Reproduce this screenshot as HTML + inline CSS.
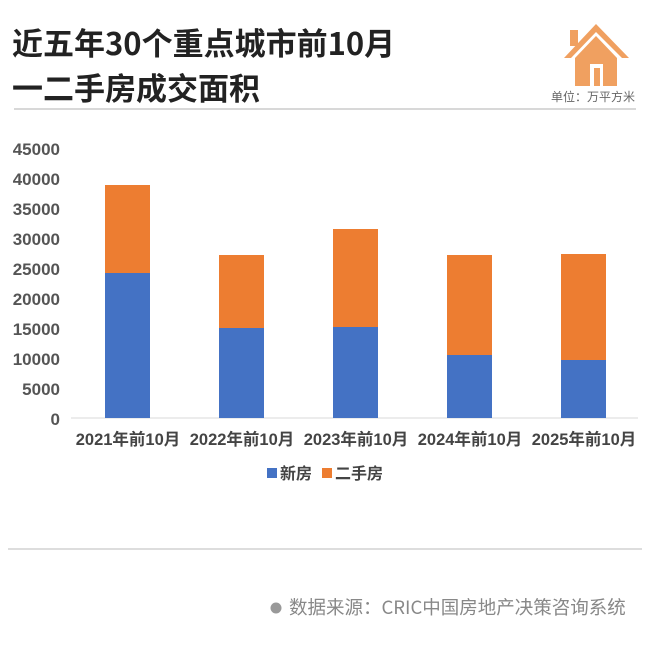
<!DOCTYPE html>
<html><head><meta charset="utf-8"><style>
body{margin:0;background:#fff;}
svg{display:block;font-family:"Liberation Sans","Noto Sans CJK SC",sans-serif;}
</style></head><body>
<svg width="650" height="664" viewBox="0 0 650 664" xmlns="http://www.w3.org/2000/svg">
<rect width="650" height="664" fill="#fff"/>
<text x="12" y="55" font-size="31" font-weight="bold" fill="#222" font-family="'Noto Sans CJK SC',sans-serif">近五年30个重点城市前10月</text>
<text x="12" y="100" font-size="31" font-weight="bold" fill="#222" font-family="'Noto Sans CJK SC',sans-serif">一二手房成交面积</text>
<g fill="#f0a060">
<polygon points="564,58 596,24 629,58 622,58 596,32 571,58"/>
<rect x="570" y="30" width="8" height="16"/>
<polygon points="575,58 596,36 617,58 617,86 575,86"/>
</g>
<rect x="590" y="64" width="13" height="22" fill="#fff"/>
<rect x="594" y="68" width="6" height="18" fill="#f0a060"/>
<text x="551" y="101" font-size="12" fill="#666" font-family="'Noto Sans CJK SC',sans-serif">单位：万平方米</text>
<line x1="14" y1="109" x2="636" y2="109" stroke="#ccc" stroke-width="1.5"/>
<g font-size="17" font-weight="bold" fill="#555" text-anchor="end">
<text x="60" y="155">45000</text><text x="60" y="185">40000</text><text x="60" y="215">35000</text>
<text x="60" y="245">30000</text><text x="60" y="275">25000</text><text x="60" y="305">20000</text>
<text x="60" y="335">15000</text><text x="60" y="365">10000</text><text x="60" y="395">5000</text>
<text x="60" y="425">0</text>
</g>
<line x1="71" y1="418" x2="638" y2="418" stroke="#d9d9d9" stroke-width="1"/>
<g>
<rect x="105" y="185" width="45" height="88" fill="#ed7d31"/><rect x="105" y="273" width="45" height="145" fill="#4472c4"/>
<rect x="219" y="255" width="45" height="73" fill="#ed7d31"/><rect x="219" y="328" width="45" height="90" fill="#4472c4"/>
<rect x="333" y="229" width="45" height="98" fill="#ed7d31"/><rect x="333" y="327" width="45" height="91" fill="#4472c4"/>
<rect x="447" y="255" width="45" height="100" fill="#ed7d31"/><rect x="447" y="355" width="45" height="63" fill="#4472c4"/>
<rect x="561" y="254" width="45" height="106" fill="#ed7d31"/><rect x="561" y="360" width="45" height="58" fill="#4472c4"/>
</g>
<g font-size="16.5" font-weight="bold" fill="#444" text-anchor="middle" font-family="'Liberation Sans','Noto Sans CJK SC',sans-serif">
<text x="128" y="445">2021年前10月</text><text x="242" y="445">2022年前10月</text>
<text x="356" y="445">2023年前10月</text><text x="470" y="445">2024年前10月</text>
<text x="584" y="445">2025年前10月</text>
</g>
<rect x="267" y="468" width="10" height="10" fill="#4472c4"/>
<text x="280" y="479" font-size="16" font-weight="bold" fill="#444" font-family="'Noto Sans CJK SC',sans-serif">新房</text>
<rect x="322" y="468" width="10" height="10" fill="#ed7d31"/>
<text x="335" y="479" font-size="16" font-weight="bold" fill="#444" font-family="'Noto Sans CJK SC',sans-serif">二手房</text>
<line x1="8" y1="549" x2="642" y2="549" stroke="#bbb" stroke-width="1"/>
<circle cx="276" cy="608" r="5.5" fill="#999"/>
<text x="289" y="614" font-size="18.5" fill="#888" font-family="'Noto Sans CJK SC',sans-serif">数据来源：CRIC中国房地产决策咨询系统</text>
</svg>
</body></html>
